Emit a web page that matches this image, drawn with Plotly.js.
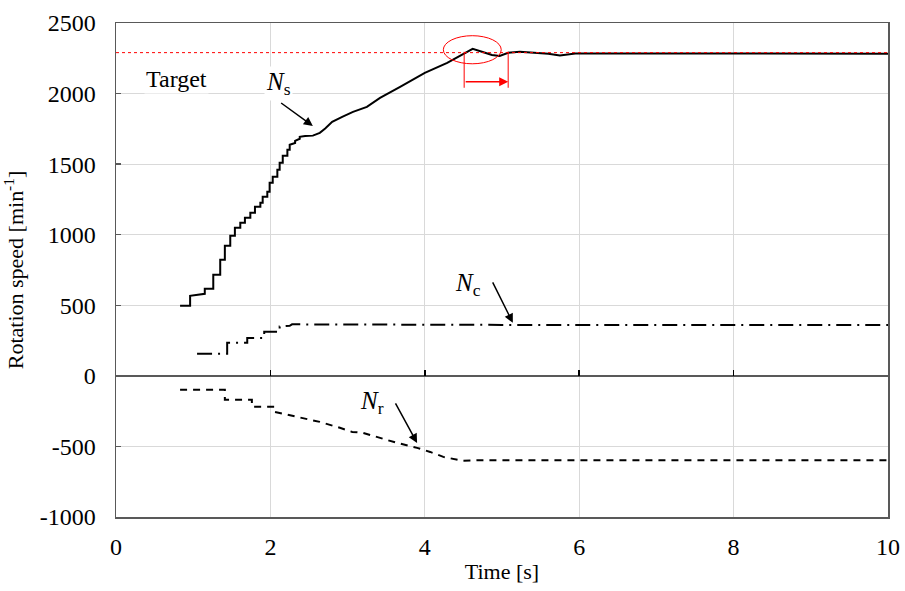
<!DOCTYPE html>
<html>
<head>
<meta charset="utf-8">
<script src="https://cdn.plot.ly/plotly-3.0.1.min.js"></script>
<style>html,body{margin:0;padding:0;background:#fff;}#chart{width:905px;height:591px;}</style>
</head>
<body>
<div id="chart"></div>
<script>
// ---- data ----
const nsTime = [0.83,0.96,0.96,1.06,1.15,1.15,1.26,1.26,1.35,1.35,1.41,1.41,1.48,1.48,1.54,1.54,1.61,1.61,1.67,1.67,1.74,1.74,1.80,1.80,1.87,1.87,1.90,1.90,1.96,1.96,1.99,1.99,2.03,2.03,2.09,2.09,2.12,2.12,2.16,2.16,2.22,2.22,2.25,2.25,2.32,2.32,2.38,2.38,2.45,2.55,2.64,2.71,2.80,2.93,3.07,3.25,3.42,3.68,4.00,4.29,4.52,4.62,4.74,4.87,4.97,5.08,5.23,5.40,5.60,5.75,5.95,7.00,8.00,10.00];
const nsSpeed = [496,496,567,574,581,617,617,716,716,822,822,921,921,992,992,1049,1049,1084,1084,1120,1120,1155,1155,1198,1198,1226,1226,1269,1269,1304,1304,1368,1368,1410,1410,1460,1460,1510,1510,1559,1559,1602,1602,1637,1650,1665,1680,1694,1700,1702,1722,1752,1800,1835,1870,1906,1970,2048,2147,2218,2289,2317,2296,2274,2267,2289,2296,2289,2282,2270,2284,2284,2283,2283];

const ncTime = [1.05,1.44,1.44,1.70,1.70,1.92,1.92,2.12,2.12,2.25,2.28,3.00,5.00,10.00];
const ncSpeed = [156,156,234,234,269,269,312,312,350,355,365,363,361,361];

const nrTime = [0.83,1.41,1.41,1.76,1.76,2.05,2.05,2.34,2.64,2.90,3.06,3.20,3.64,3.90,4.07,4.24,4.49,4.70,10.00];
const nrSpeed = [-99,-99,-170,-170,-219,-219,-255,-290,-326,-368,-397,-404,-475,-510,-539,-574,-602,-598,-598];

const targetTime = [0, 10];
const targetSpeed = [2290, 2290];

const xTicks = [0, 2, 4, 6, 8, 10];
const yTicks = [-1000, -500, 0, 500, 1000, 1500, 2000, 2500];

// ---- chart ----
const FONT = 'Liberation Serif';
const AX = '#595959';

const traces = [
  {x: nsTime, y: nsSpeed, mode: 'lines', line: {color: '#000', width: 2}, name: 'Ns'},
  {x: ncTime, y: ncSpeed, mode: 'lines', line: {color: '#000', width: 2, dash: '15px,6px,2px,6px'}, name: 'Nc'},
  {x: nrTime, y: nrSpeed, mode: 'lines', line: {color: '#000', width: 2, dash: '7px,6px'}, name: 'Nr'},
  {x: targetTime, y: targetSpeed, xaxis: 'x2', mode: 'lines', line: {color: '#ff0000', width: 1, dash: '3px,3px'}, name: 'Target'}
];

const layout = {
  width: 905, height: 591,
  margin: {l: 116, r: 17, t: 23, b: 74},
  paper_bgcolor: '#fff', plot_bgcolor: '#fff',
  showlegend: false,
  font: {family: FONT, size: 22, color: '#000'},
  xaxis: {
    range: [0, 10], tickvals: xTicks, ticktext: xTicks.map(String),
    ticks: '', showline: true, mirror: true, linecolor: AX, linewidth: 1.5,
    showgrid: true, gridcolor: '#d9d9d9', gridwidth: 1, zeroline: false,
    tickfont: {family: FONT, size: 24, color: '#000'}, ticklabelstandoff: 8,
    title: {text: 'Time [s]', font: {family: FONT, size: 22, color: '#000'}, standoff: 4}
  },
  xaxis2: {
    range: [0, 10], tickvals: xTicks, overlaying: 'x', anchor: 'free', position: 1000/3500,
    ticks: 'inside', ticklen: 6, tickcolor: '#000', tickwidth: 1.5,
    showticklabels: false, showgrid: false, zeroline: false, showline: false
  },
  yaxis: {
    range: [-1000, 2500], tickvals: yTicks, ticktext: yTicks.map(String),
    ticks: 'inside', ticklen: 5, tickcolor: AX, tickwidth: 1.5,
    showline: true, mirror: true, linecolor: AX, linewidth: 1.5,
    showgrid: true, gridcolor: '#d9d9d9', gridwidth: 1,
    zeroline: true, zerolinecolor: AX, zerolinewidth: 1.5,
    tickfont: {family: FONT, size: 24, color: '#000'}, ticklabelstandoff: 14,
    title: {text: 'Rotation speed [min<sup>-1</sup>]', font: {family: FONT, size: 22, color: '#000'}, standoff: 10}
  },
  shapes: [
    {type: 'circle', xref: 'x', yref: 'y', x0: 4.24, x1: 4.99, y0: 2211, y1: 2410, line: {color: '#ff0000', width: 1}},
    {type: 'line', xref: 'x', yref: 'y', x0: 4.51, x1: 4.51, y0: 2296, y1: 2041, line: {color: '#ff0000', width: 1}},
    {type: 'line', xref: 'x', yref: 'y', x0: 5.08, x1: 5.08, y0: 2296, y1: 2041, line: {color: '#ff0000', width: 1}}
  ],
  annotations: [
    {x: 0.79, y: 2105, xref: 'x', yref: 'y', text: 'Target', showarrow: false, bgcolor: '#fff', font: {family: FONT, size: 24, color: '#000'}},
    {x: 2.10, y: 2069, xref: 'x', yref: 'y', text: '<i>N</i><sub>s</sub>', showarrow: false, bgcolor: '#fff', font: {family: FONT, size: 25, color: '#000'}},
    {x: 4.56, y: 645, xref: 'x', yref: 'y', text: '<i>N</i><sub>c</sub>', showarrow: false, font: {family: FONT, size: 25, color: '#000'}},
    {x: 3.32, y: -191, xref: 'x', yref: 'y', text: '<i>N</i><sub>r</sub>', showarrow: false, font: {family: FONT, size: 25, color: '#000'}},
    {x: 2.55, y: 1771, ax: 2.12, ay: 1941, xref: 'x', yref: 'y', axref: 'x', ayref: 'y', text: '', showarrow: true, arrowhead: 2, arrowsize: 1.2, arrowwidth: 1.5, arrowcolor: '#000'},
    {x: 5.14, y: 376, ax: 4.87, ay: 673, xref: 'x', yref: 'y', axref: 'x', ayref: 'y', text: '', showarrow: true, arrowhead: 2, arrowsize: 1.2, arrowwidth: 1.5, arrowcolor: '#000'},
    {x: 3.90, y: -475, ax: 3.61, ay: -184, xref: 'x', yref: 'y', axref: 'x', ayref: 'y', text: '', showarrow: true, arrowhead: 2, arrowsize: 1.2, arrowwidth: 1.5, arrowcolor: '#000'},
    {x: 5.08, y: 2084, ax: 4.51, ay: 2084, xref: 'x', yref: 'y', axref: 'x', ayref: 'y', text: '', showarrow: true, arrowhead: 2, arrowsize: 1.2, arrowwidth: 1.5, arrowcolor: '#ff0000'}
  ]
};

Plotly.newPlot('chart', traces, layout, {staticPlot: true, displayModeBar: false});
</script>
</body>
</html>
